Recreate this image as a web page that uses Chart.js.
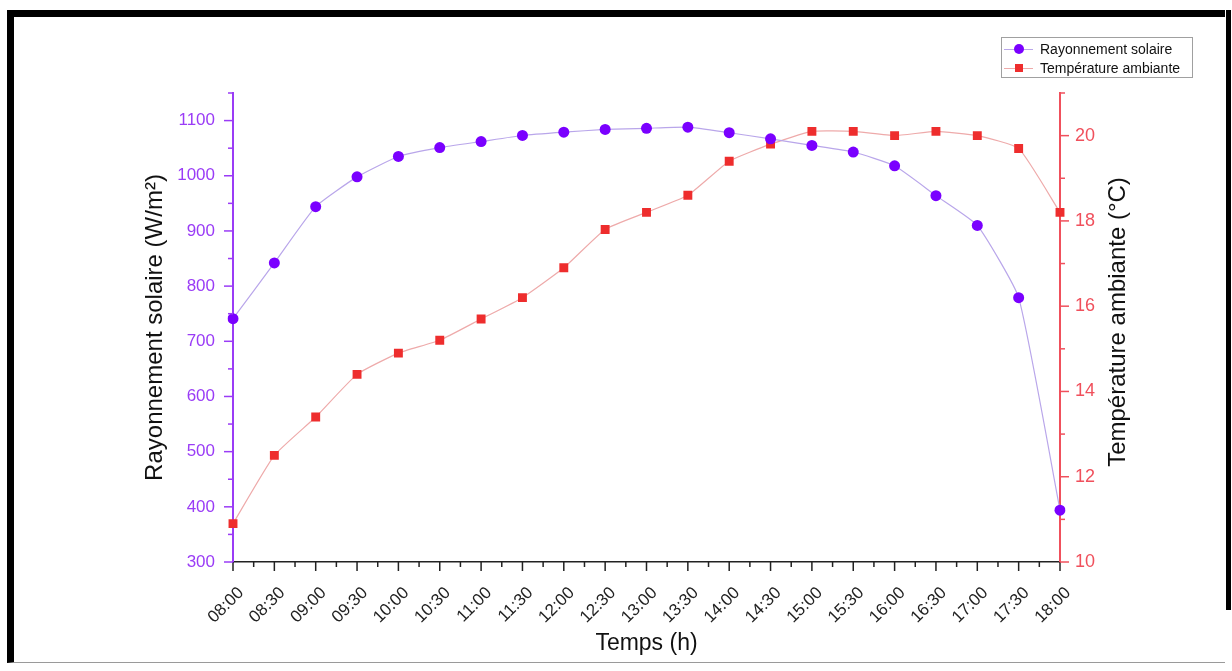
<!DOCTYPE html>
<html lang="fr">
<head>
  <meta charset="UTF-8" />
  <title>Rayonnement solaire et température ambiante</title>
  <script src="https://cdn.jsdelivr.net/npm/chart.js"></script>
  <style>
    html, body { margin: 0; padding: 0; background: #fff; }
    body { width: 1232px; height: 671px; position: relative; overflow: hidden; font-family: "Liberation Sans", Arial, sans-serif; }
    #chart { position: absolute; left: 0; top: 0; }
    .frame { position: absolute; left: 7px; top: 10px; width: 1218px; height: 653px; border-top: 7px solid #000; border-left: 7px solid #000; border-bottom: 1px solid #9a9a9a; box-sizing: border-box; }
    .frame-right { position: absolute; left: 1226px; top: 10px; width: 5px; height: 600px; background: #000; }
    .legend { position: absolute; left: 1001px; top: 37px; width: 192px; height: 41px; border: 1px solid #a0a0a0; box-sizing: border-box; font-size: 14px; color: #111; }
    .legend .row { position: absolute; left: 0; height: 18px; line-height: 18px; white-space: nowrap; }
    .legend .line { position: absolute; left: 2px; top: 9px; width: 29px; height: 1px; }
    .legend .mk { position: absolute; }
    .legend .txt { position: absolute; left: 38px; top: 0; }
    .y1-title { position: absolute; left: 1117px; top: 322px; width: 400px; margin-left: -200px; margin-top: -14px; height: 28px; line-height: 28px; text-align: center; font-size: 24px; color: #111; transform: rotate(-90deg); white-space: nowrap; }
  </style>
</head>
<body>
  <canvas id="chart" width="1232" height="671"></canvas>
  <div class="frame"></div>
  <div class="frame-right"></div>

  <div class="legend">
    <div class="row" style="top:2px">
      <span class="line" style="background:#b9a6ea"></span>
      <span class="mk" style="left:12px;top:4px;width:10px;height:10px;border-radius:50%;background:#7a00ff"></span>
      <span class="txt">Rayonnement solaire</span>
    </div>
    <div class="row" style="top:21px">
      <span class="line" style="background:#eeaaaa"></span>
      <span class="mk" style="left:13px;top:5px;width:8px;height:8px;background:#ee2d2d"></span>
      <span class="txt">Température ambiante</span>
    </div>
  </div>
  <!-- right axis title, reading bottom to top like the left one -->
  <div class="y1-title">Température ambiante (°C)</div>

  <script>
    const timeLabels = ['08:00', '08:30', '09:00', '09:30', '10:00', '10:30', '11:00', '11:30', '12:00', '12:30',
      '13:00', '13:30', '14:00', '14:30', '15:00', '15:30', '16:00', '16:30', '17:00', '17:30', '18:00'];
    // W/m²
    const solarRadiation = [741, 842, 944, 998, 1035, 1051, 1062, 1073, 1079, 1084,
      1086, 1088, 1078, 1067, 1055, 1043, 1018, 964, 910, 779, 394];
    // °C
    const ambientTemp = [10.9, 12.5, 13.4, 14.4, 14.9, 15.2, 15.7, 16.2, 16.9, 17.8,
      18.2, 18.6, 19.4, 19.8, 20.1, 20.1, 20.0, 20.1, 20.0, 19.7, 18.2];
    const solarTicks = [300, 400, 500, 600, 700, 800, 900, 1000, 1100];
    const tempTicks = [10, 12, 14, 16, 18, 20];

    const FONT = '"Liberation Sans", Arial, sans-serif';
    const PURPLE = '#9a3cf6', RED = '#f0505c';

    // outward major/minor tick marks on the three axes
    const axisTicks = {
      id: 'axisTicks',
      afterDraw(chart) {
        const { ctx, scales: { x, y, y1 } } = chart;
        const seg = (x0, y0, x2, y2) => { ctx.beginPath(); ctx.moveTo(x0, y0); ctx.lineTo(x2, y2); ctx.stroke(); };
        ctx.save();
        ctx.lineWidth = 1.5;

        ctx.strokeStyle = '#222';
        timeLabels.forEach((_, i) => {
          const px = x.getPixelForValue(i);
          seg(px, x.top, px, x.top + 9);
          if (i < timeLabels.length - 1) {
            const mid = (px + x.getPixelForValue(i + 1)) / 2;
            seg(mid, x.top, mid, x.top + 5);
          }
        });

        ctx.strokeStyle = PURPLE;
        solarTicks.forEach(v => {
          const py = y.getPixelForValue(v);
          seg(y.right, py, y.right - 9, py);
          const pm = y.getPixelForValue(v + 50);
          seg(y.right, pm, y.right - 5, pm);
        });

        ctx.strokeStyle = RED;
        tempTicks.forEach(v => {
          const py = y1.getPixelForValue(v);
          seg(y1.left, py, y1.left + 9, py);
          const pm = y1.getPixelForValue(v + 1);
          seg(y1.left, pm, y1.left + 5, pm);
        });
        ctx.restore();
      }
    };

    new Chart(document.getElementById('chart'), {
      type: 'line',
      data: {
        labels: timeLabels,
        datasets: [
          {
            label: 'Rayonnement solaire',
            data: solarRadiation,
            yAxisID: 'y',
            borderColor: '#b9a6ea',
            borderWidth: 1.2,
            backgroundColor: '#7a00ff',
            pointBackgroundColor: '#7a00ff',
            pointBorderWidth: 0,
            pointRadius: 5.5,
            pointStyle: 'circle',
            tension: 0.15
          },
          {
            label: 'Température ambiante',
            data: ambientTemp,
            yAxisID: 'y1',
            borderColor: '#eeaaaa',
            borderWidth: 1.2,
            backgroundColor: '#ee2d2d',
            pointBackgroundColor: '#ee2d2d',
            pointBorderWidth: 0,
            pointRadius: 6.3,
            pointStyle: 'rect',
            tension: 0.15
          }
        ]
      },
      options: {
        responsive: false,
        animation: false,
        devicePixelRatio: 1,
        layout: { padding: { left: 141, right: 101, top: 93, bottom: 14 } },
        plugins: { legend: { display: false }, tooltip: { enabled: false } },
        scales: {
          x: {
            type: 'category',
            offset: false,
            grid: { display: false, drawTicks: false },
            border: { display: true, color: '#222', width: 1.5 },
            ticks: {
              autoSkip: false, maxRotation: 45, minRotation: 45, padding: 21, labelOffset: 8,
              color: '#222', font: { family: FONT, size: 17 }
            },
            title: { display: true, text: 'Temps (h)', color: '#111', padding: 0, font: { family: FONT, size: 23 } },
            afterFit: s => { s.height = 95; }
          },
          y: {
            position: 'left',
            min: 300, max: 1150,
            grid: { display: false, drawTicks: false },
            border: { display: true, color: PURPLE, width: 2 },
            ticks: { stepSize: 100, padding: 18, color: PURPLE, font: { family: FONT, size: 17 }, callback: v => String(v) },
            afterBuildTicks: s => { s.ticks = s.ticks.filter(t => solarTicks.includes(t.value)); },
            title: { display: true, text: 'Rayonnement solaire (W/m²)', color: '#111', padding: 0, font: { family: FONT, size: 24 } },
            afterFit: s => { s.width = 92; }
          },
          y1: {
            position: 'right',
            min: 10, max: 21,
            grid: { display: false, drawTicks: false },
            border: { display: true, color: RED, width: 2 },
            ticks: { stepSize: 2, padding: 15, color: RED, font: { family: FONT, size: 18 }, callback: v => String(v) },
            afterBuildTicks: s => { s.ticks = s.ticks.filter(t => tempTicks.includes(t.value)); },
            title: { display: false },
            afterFit: s => { s.width = 71; }
          }
        }
      },
      plugins: [axisTicks]
    });
  </script>
</body>
</html>
